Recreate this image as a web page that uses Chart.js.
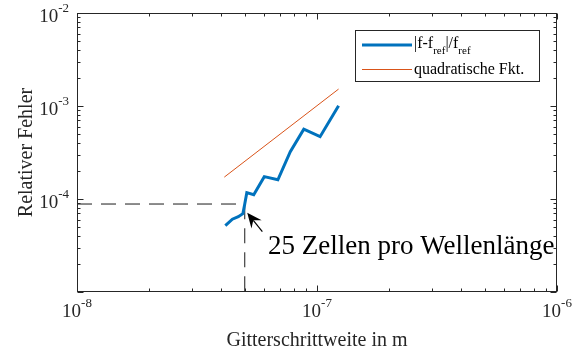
<!DOCTYPE html>
<html lang="de">
<head>
<meta charset="UTF-8">
<title>Relativer Fehler</title>
<script src="https://cdn.jsdelivr.net/npm/chart.js"></script>
<style>body{margin:0;background:#fff}</style>
</head>
<body>
<canvas id="errChart" width="574" height="351"></canvas>
<script>
// Gitterschrittweite (m) und relativer Fehler |f-fref|/fref
const gridStep = [4.15e-8, 4.44e-8, 4.70e-8, 4.91e-8, 5.00e-8, 5.10e-8, 5.45e-8, 6.03e-8, 6.87e-8, 7.74e-8, 8.81e-8, 1.03e-7, 1.23e-7];
const relError = [5.16e-5, 6.06e-5, 6.45e-5, 6.95e-5, 8.83e-5, 1.17e-4, 1.11e-4, 1.74e-4, 1.61e-4, 3.23e-4, 5.63e-4, 4.68e-4, 1.007e-3];

// quadratische Referenzgerade
const quadStep = [4.11e-8, 1.23e-7];
const quadError = [1.72e-4, 1.52e-3];

// Markierung bei 25 Zellen pro Wellenlaenge
const markStep = [1e-8, 5e-8, 5e-8];
const markError = [8.83e-5, 8.83e-5, 1e-5];
const arrowFrom = [5.92e-8, 4.45e-5];
const arrowTo = [5.12e-8, 7.13e-5];

// Achsen
const xDecades = [1e-8, 1e-7, 1e-6];
const xExp = ['-8', '-7', '-6'];
const yDecades = [1e-5, 1e-4, 1e-3, 1e-2];
const yExp = ['', '-4', '-3', '-2'];

const SERIF = '"Liberation Serif", "Times New Roman", serif';
const AXIS = '#262626';

function toPoints(xs, ys) {
    return xs.map((v, i) => ({ x: v, y: ys[i] }));
}

// 10^n label: base + superscript
function drawPow(ctx, exp, x, baseY, align) {
    ctx.font = '19px ' + SERIF;
    const w10 = ctx.measureText('10').width;
    ctx.font = '13px ' + SERIF;
    const wExp = ctx.measureText(exp).width;
    const total = w10 + wExp;
    let start = x - total / 2;
    if (align === 'right') start = x - total;
    ctx.textAlign = 'left';
    ctx.textBaseline = 'alphabetic';
    ctx.font = '19px ' + SERIF;
    ctx.fillText('10', start, baseY);
    ctx.font = '13px ' + SERIF;
    ctx.fillText(exp, start + w10, baseY - 10);
}

const matlabAxes = {
    id: 'matlabAxes',
    afterDatasetsDraw(chart) {
        const { ctx, chartArea: a, scales: { x, y } } = chart;
        ctx.save();
        ctx.strokeStyle = AXIS;
        ctx.fillStyle = AXIS;
        ctx.lineWidth = 1;

        const L = Math.round(a.left) + 0.5, R = Math.round(a.right) - 0.5;
        const T = Math.round(a.top) + 0.5, B = Math.round(a.bottom) - 0.5;

        ctx.beginPath();
        // x ticks (bottom + top, inward)
        xDecades.forEach(d => {
            for (let m = 1; m <= 9; m++) {
                const v = d * m;
                if (v > x.max * 1.0001) break;
                const px = Math.round(x.getPixelForValue(v)) + 0.5;
                const len = m === 1 ? 6 : 3;
                ctx.moveTo(px, B); ctx.lineTo(px, B - len);
                ctx.moveTo(px, T); ctx.lineTo(px, T + len);
            }
        });
        // y ticks (left + right, inward)
        yDecades.forEach(d => {
            for (let m = 1; m <= 9; m++) {
                const v = d * m;
                if (v > y.max * 1.0001) break;
                const py = Math.round(y.getPixelForValue(v)) + 0.5;
                const len = m === 1 ? 6 : 3;
                ctx.moveTo(L, py); ctx.lineTo(L + len, py);
                ctx.moveTo(R, py); ctx.lineTo(R - len, py);
            }
        });
        ctx.stroke();
        ctx.strokeRect(L, T, R - L, B - T);

        // tick labels
        xDecades.forEach((d, i) => drawPow(ctx, xExp[i], x.getPixelForValue(d), 317, 'center'));
        yDecades.forEach((d, i) => {
            if (yExp[i]) drawPow(ctx, yExp[i], 69, y.getPixelForValue(d) + 8.5, 'right');
        });

        // axis titles
        ctx.font = '20px ' + SERIF;
        ctx.textAlign = 'center';
        ctx.textBaseline = 'alphabetic';
        ctx.fillText('Gitterschrittweite in m', (a.left + a.right) / 2, 346);
        ctx.save();
        ctx.translate(32, (a.top + a.bottom) / 2);
        ctx.rotate(-Math.PI / 2);
        ctx.fillText('Relativer Fehler', 0, 0);
        ctx.restore();

        // arrow + annotation
        const tx = x.getPixelForValue(arrowTo[0]), ty = y.getPixelForValue(arrowTo[1]);
        const fx = x.getPixelForValue(arrowFrom[0]), fy = y.getPixelForValue(arrowFrom[1]);
        const len = Math.hypot(tx - fx, ty - fy);
        const ux = (tx - fx) / len, uy = (ty - fy) / len;
        const nx = -uy, ny = ux;
        const hl = 15, hw = 13;
        const notchX = tx - ux * hl * 0.65, notchY = ty - uy * hl * 0.65;
        ctx.strokeStyle = '#000';
        ctx.fillStyle = '#000';
        ctx.lineWidth = 1.2;
        ctx.beginPath();
        ctx.moveTo(fx, fy);
        ctx.lineTo(notchX, notchY);
        ctx.stroke();
        ctx.beginPath();
        ctx.moveTo(tx, ty);
        ctx.lineTo(tx - ux * hl + nx * hw / 2, ty - uy * hl + ny * hw / 2);
        ctx.lineTo(notchX, notchY);
        ctx.lineTo(tx - ux * hl - nx * hw / 2, ty - uy * hl - ny * hw / 2);
        ctx.closePath();
        ctx.fill();

        ctx.font = '27px ' + SERIF;
        ctx.textAlign = 'left';
        ctx.fillText('25 Zellen pro Wellenlänge', 268, 254);
        ctx.restore();
    },
    afterDraw(chart) {
        const { ctx } = chart;
        ctx.save();
        // legend box
        ctx.fillStyle = '#fff';
        ctx.fillRect(355.5, 30.5, 184, 51);
        ctx.strokeStyle = AXIS;
        ctx.lineWidth = 1;
        ctx.strokeRect(355.5, 30.5, 184, 51);

        const ds = chart.data.datasets;
        ctx.lineWidth = ds[0].borderWidth;
        ctx.strokeStyle = ds[0].borderColor;
        ctx.beginPath(); ctx.moveTo(362, 45); ctx.lineTo(412, 45); ctx.stroke();
        ctx.lineWidth = ds[1].borderWidth;
        ctx.strokeStyle = ds[1].borderColor;
        ctx.beginPath(); ctx.moveTo(362, 69.5); ctx.lineTo(412, 69.5); ctx.stroke();

        ctx.fillStyle = '#000';
        ctx.textAlign = 'left';
        ctx.textBaseline = 'alphabetic';
        let cx = 414;
        const part = (txt, size, base) => {
            ctx.font = size + 'px ' + SERIF;
            ctx.fillText(txt, cx, base);
            cx += ctx.measureText(txt).width;
        };
        part('|f-f', 16, 48);
        part('ref', 11, 54);
        part('|/f', 16, 48);
        part('ref', 11, 54);

        ctx.font = '16px ' + SERIF;
        ctx.fillText('quadratische Fkt.', 414, 73.5);
        ctx.restore();
    }
};

new Chart(document.getElementById('errChart').getContext('2d'), {
    type: 'line',
    data: {
        datasets: [
            {
                label: '|f-fref|/fref',
                data: toPoints(gridStep, relError),
                borderColor: '#0072BD',
                borderWidth: 3,
                pointRadius: 0,
                fill: false,
                tension: 0
            },
            {
                label: 'quadratische Fkt.',
                data: toPoints(quadStep, quadError),
                borderColor: '#D95319',
                borderWidth: 1,
                pointRadius: 0,
                fill: false
            },
            {
                label: '25 Zellen',
                data: toPoints(markStep, markError),
                borderColor: '#1a1a1a',
                borderWidth: 1,
                borderDash: [15, 9],
                pointRadius: 0,
                fill: false
            }
        ]
    },
    options: {
        responsive: false,
        devicePixelRatio: 1,
        animation: false,
        layout: { padding: { left: 77, right: 17, top: 13, bottom: 59 } },
        plugins: {
            legend: { display: false },
            tooltip: { enabled: false }
        },
        scales: {
            x: { type: 'logarithmic', min: 1e-8, max: 1e-6, display: false },
            y: { type: 'logarithmic', min: 1e-5, max: 1e-2, display: false }
        }
    },
    plugins: [matlabAxes]
});
</script>
</body>
</html>
